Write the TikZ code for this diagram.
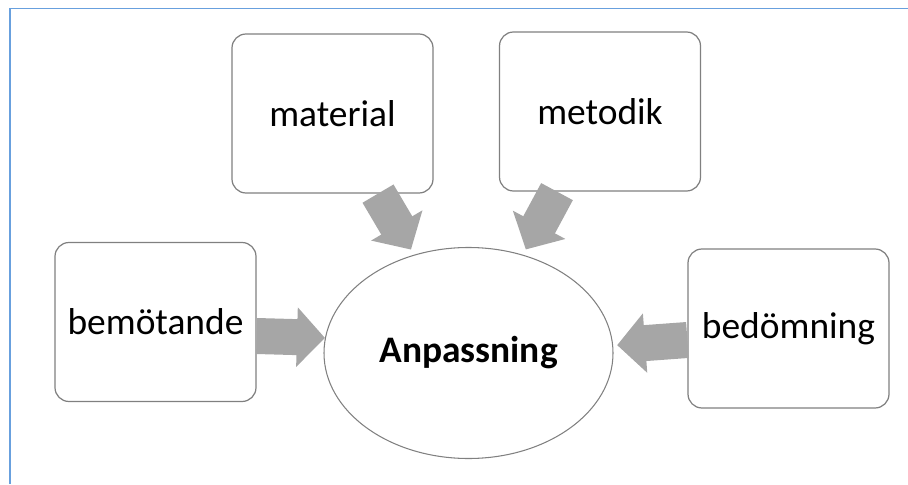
\documentclass[tikz,border=0pt]{standalone}
\usepackage{fontspec}
\setmainfont{Carlito}
\usepackage{tikz}
\usetikzlibrary{positioning,calc,arrows.meta,shapes.geometric}

\definecolor{frameblue}{RGB}{104,160,222}
\definecolor{boxgray}{RGB}{128,128,128}
\definecolor{arrowgray}{RGB}{166,166,166}

\begin{document}
\begin{tikzpicture}[
	x=0.2mm, y=0.2mm,
	area/.style={draw=boxgray, line width=0.7pt, rounded corners=2.8mm,
		minimum width=40.2mm, minimum height=31.8mm, inner sep=0pt,
		font=\fontsize{21.3}{25}\selectfont},
	center/.style={ellipse, draw=boxgray, line width=0.6pt,
		minimum width=57.8mm, minimum height=42.2mm, inner sep=0pt,
		font=\fontsize{21.3}{25}\selectfont\bfseries},
	push/.style={arrowgray, line width=7.2mm,
		-{Triangle[length=5.6mm, width=11.6mm]}},
	every node/.style={color=black}
	]
	\useasboundingbox (0,0) rectangle (908,484);
	% frame
	\draw[frameblue, line width=0.35mm] (10,0) -- (10,475.5) -- (908,475.5);
	% boxes
	\node[area] (material) at (332.5,370.5) {material};
	\node[area] (metodik) at (600,372.5) {metodik};
	\node[area] (bemotande) at (155.5,162) {bemötande};
	\node[area] (bedomning) at (788.5,155.5) {bedömning};
	\node[center] (anp) at (468.5,131) {Anpassning};
	% arrows
	\draw[push, shorten >=1.2mm] ([xshift=9.1mm]material.south) -- (anp.119);
	\draw[push, shorten >=1.2mm] ([xshift=-8.6mm]metodik.south) -- (anp.61);
	\draw[push] ([yshift=-2.8mm]bemotande.east) -- (anp.174);
	\draw[push, shorten >=0.8mm] ([yshift=-2.3mm]bedomning.west) -- (anp.3.5);
\end{tikzpicture}
\end{document}
